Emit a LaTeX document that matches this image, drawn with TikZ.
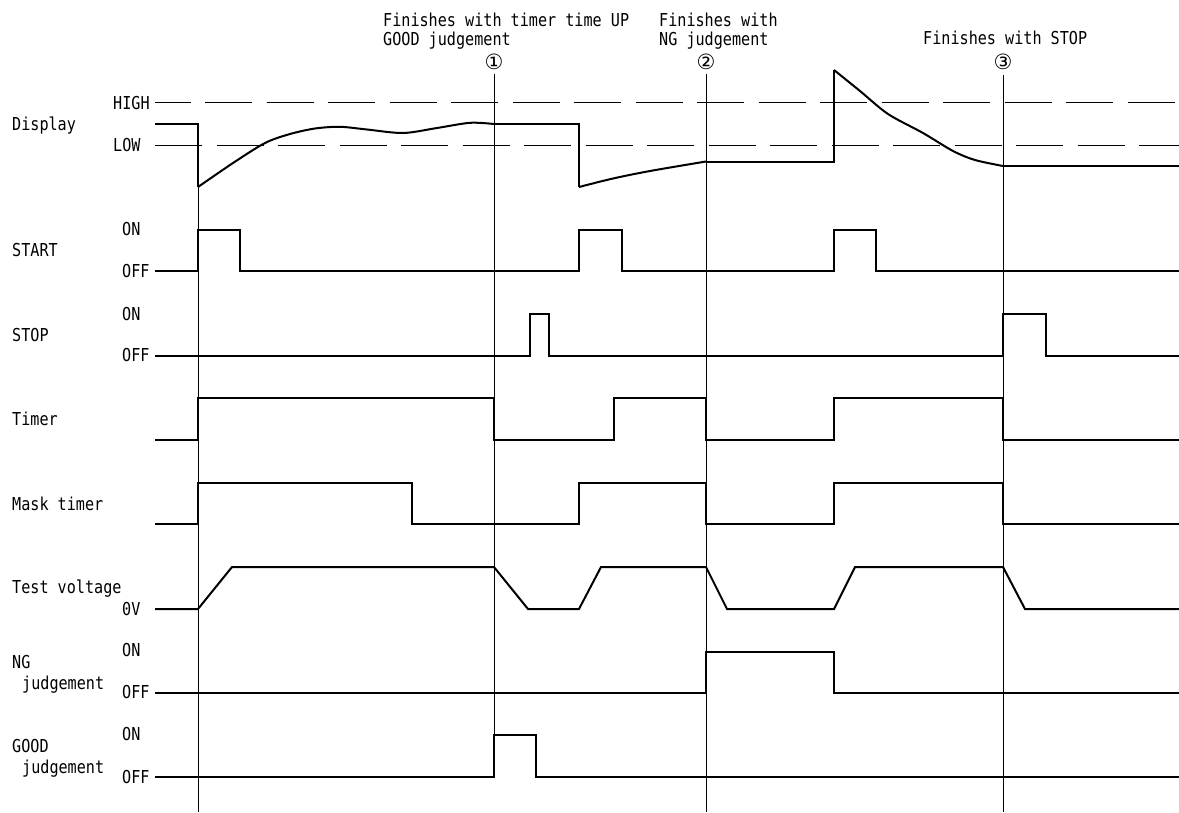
\documentclass[tikz,border=0pt]{standalone}
\usepackage{fontspec}
\newfontfamily\monof[FakeStretch=0.85]{DejaVu Sans Mono}
\newfontfamily\circf{DejaVu Sans}
\begin{document}
\begin{tikzpicture}[x=1pt,y=-1pt,
  sig/.style={line width=2pt, line join=miter},
  guide/.style={line width=1pt},
  lim/.style={line width=1pt, dash pattern=on 47pt off 14.5pt},
  lbl/.style={anchor=base west, inner sep=0pt, font=\monof\fontsize{17.8}{20}\selectfont},
  num/.style={inner sep=0pt, font=\circf\fontsize{21}{24}\selectfont}]
\useasboundingbox[fill=white] (0,0) rectangle (1179,812);

% header texts
\node[lbl] (t1a) at (383,26.7) {Finishes with timer time UP};
\node[lbl] (t1b) at (383,45.7) {GOOD judgement};
\node[lbl] (t2a) at (659,26.7) {Finishes with};
\node[lbl] (t2b) at (659,45.7) {NG judgement};
\node[lbl] (t3a) at (923,44.3) {Finishes with STOP};
\node[num] (n1) at (494,62) {①};
\node[num] (n2) at (706,62) {②};
\node[num] (n3) at (1003,62) {③};

% guide lines
\coordinate (g0t) at (198,124); \coordinate (g0b) at (198,812);
\coordinate (g1t) at (494,74);  \coordinate (g1b) at (494,777);
\coordinate (g2t) at (706,74);  \coordinate (g2b) at (706,812);
\coordinate (g3t) at (1003,75); \coordinate (g3b) at (1003,812);
\draw[guide] (g0t) -- (g0b);
\draw[guide] (g1t) -- (g1b);
\draw[guide] (g2t) -- (g2b);
\draw[guide] (g3t) -- (g3b);

% left labels
\node[lbl] (lDisp) at (12,130) {Display};
\node[lbl] (lHigh) at (113,109) {HIGH};
\node[lbl] (lLow) at (113,151) {LOW};
\node[lbl] (lStart) at (12,256) {START};
\node[lbl] (lStartOn) at (122,235) {ON};
\node[lbl] (lStartOff) at (122,277.7) {OFF};
\node[lbl] (lStop) at (12,341) {STOP};
\node[lbl] (lStopOn) at (122,320) {ON};
\node[lbl] (lStopOff) at (122,361.7) {OFF};
\node[lbl] (lTimer) at (12,425) {Timer};
\node[lbl] (lMask) at (12,510) {Mask timer};
\node[lbl] (lTest) at (12,593.3) {Test voltage};
\node[lbl] (lZero) at (122,615) {0V};
\node[lbl] (lNG) at (12,668.7) {NG};
\node[lbl] (lNGj) at (22,689.3) {judgement};
\node[lbl] (lNGOn) at (122,656) {ON};
\node[lbl] (lNGOff) at (122,698.3) {OFF};
\node[lbl] (lGood) at (12,752.7) {GOOD};
\node[lbl] (lGoodj) at (22,773.3) {judgement};
\node[lbl] (lGoodOn) at (122,740.7) {ON};
\node[lbl] (lGoodOff) at (122,783.3) {OFF};

% limit lines
\draw[lim, dash phase=11.5pt] (155,102) -- (1179,102);
\draw[lim] (155,145) -- (1179,145);

% Display
\draw[sig] (155,124) -- (198,124) -- (198,187);
\draw[sig] plot[smooth, tension=0.5] coordinates {(198,187) (233,163) (265,143) (290,134) (315,128.5) (340,126.8) (367,129.5) (403,133) (437,128) (470,122.8) (494,124)};
\draw[sig] (494,124) -- (579,124) -- (579,187);
\draw[sig] plot[smooth, tension=0.5] coordinates {(579,187) (613,178.5) (650,171) (706,161.5)};
\draw[sig] (706,161.5) -- (834,161.5) -- (834,70);
\draw[sig] plot[smooth, tension=0.5] coordinates {(834,70) (860,91) (888,114) (923,133) (953,151) (975,160) (1003,166)};
\draw[sig] (1003,166) -- (1179,166);

% START
\draw[sig] (155,271) -- (198,271) -- (198,230) -- (240,230) -- (240,271)
  -- (579,271) -- (579,230) -- (622,230) -- (622,271)
  -- (834,271) -- (834,230) -- (876,230) -- (876,271) -- (1179,271);

% STOP
\draw[sig] (155,356) -- (530,356) -- (530,314) -- (549,314) -- (549,356)
  -- (1003,356) -- (1003,314) -- (1046,314) -- (1046,356) -- (1179,356);

% Timer
\draw[sig] (155,440) -- (198,440) -- (198,398) -- (494,398) -- (494,440)
  -- (614,440) -- (614,398) -- (706,398) -- (706,440)
  -- (834,440) -- (834,398) -- (1003,398) -- (1003,440) -- (1179,440);

% Mask timer
\draw[sig] (155,524) -- (198,524) -- (198,483) -- (412,483) -- (412,524)
  -- (579,524) -- (579,483) -- (706,483) -- (706,524)
  -- (834,524) -- (834,483) -- (1003,483) -- (1003,524) -- (1179,524);

% Test voltage
\draw[sig] (155,609) -- (198,609) -- (232,567) -- (494,567) -- (528,609)
  -- (579,609) -- (601,567) -- (706,567) -- (727,609)
  -- (834,609) -- (855,567) -- (1003,567) -- (1025,609) -- (1179,609);

% NG judgement
\draw[sig] (155,693) -- (706,693) -- (706,652) -- (834,652) -- (834,693) -- (1179,693);

% GOOD judgement
\draw[sig] (155,777) -- (494,777) -- (494,735) -- (536,735) -- (536,777) -- (1179,777);
\end{tikzpicture}
\end{document}
